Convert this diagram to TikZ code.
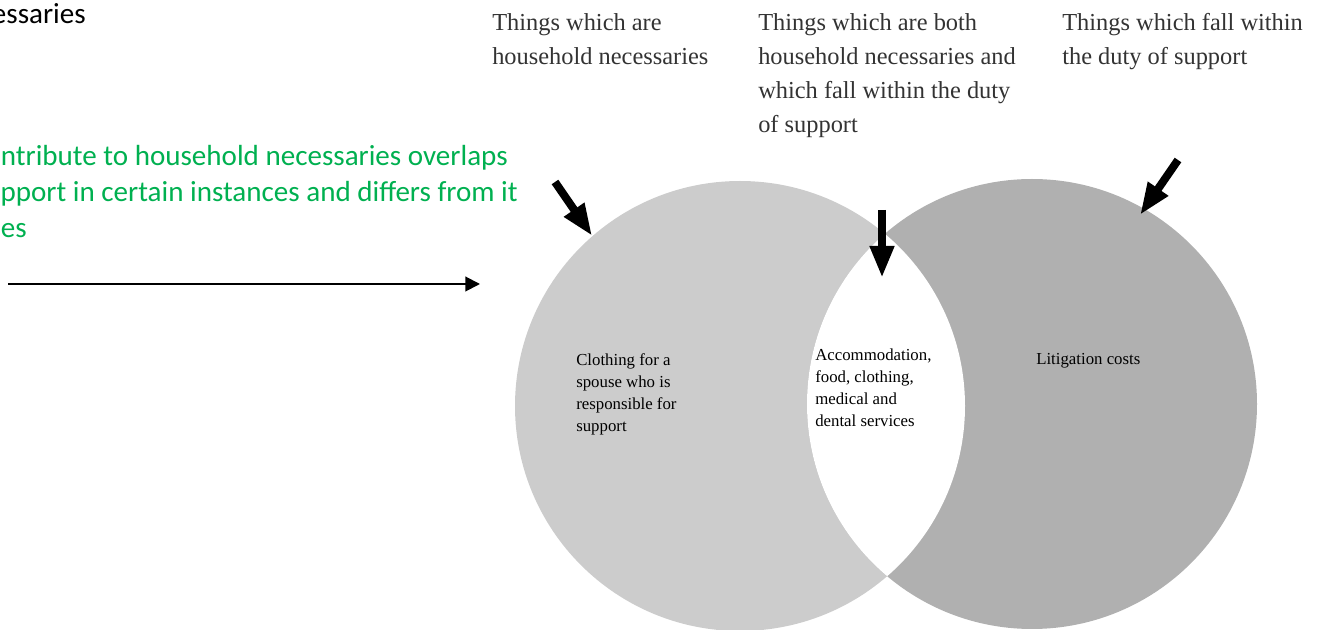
\documentclass[tikz,border=0pt]{standalone}
\usepackage{fontspec}
\setmainfont{Liberation Serif}
\newfontfamily\calibri{Carlito}
\usetikzlibrary{arrows.meta}
\definecolor{notegreen}{HTML}{00B050}
\definecolor{lightgrey}{HTML}{CCCCCC}
\definecolor{darkgrey}{HTML}{B0B0B0}
\definecolor{captiongrey}{HTML}{333333}
\begin{document}
\begin{tikzpicture}[x=0.75pt,y=-0.75pt,
  toplabel/.style={anchor=north west,align=left,text=captiongrey,inner sep=0pt,font=\fontsize{18.3}{25.7}\selectfont},
  innerlabel/.style={anchor=north west,align=left,inner sep=0pt,font=\fontsize{12.6}{16.5}\selectfont},
  notetext/.style={anchor=base east,inner sep=0pt,font=\calibri\fontsize{21.8}{26}\selectfont},
  bigarrow/.style={line width=6pt,-{Triangle[length=24pt,width=17pt]}}]
\useasboundingbox (0,0) rectangle (1318,630);
% the two circles and the white overlap
\node[circle,fill=lightgrey,minimum size=337.5pt,inner sep=0pt] (HN) at (740,406){};
\node[circle,fill=darkgrey,minimum size=337.5pt,inner sep=0pt] (DS) at (1032,404){};
\begin{scope}
\clip (740,406) circle[radius=225];
\fill[white] (1032,404) circle[radius=225];
\end{scope}
% captions on top
\node[toplabel] (tHN) at (492,13){Things which are\\household necessaries};
\node[toplabel] (tBoth) at (758,13){Things which are both\\household necessaries and\\which fall within the duty\\of support};
\node[toplabel] (tDS) at (1062,13){Things which fall within\\the duty of support};
% texts inside
\node[innerlabel] (cHN) at (576,353){Clothing for a\\spouse who is\\responsible for\\support};
\node[innerlabel] (cBoth) at (815,349){Accommodation,\\food, clothing,\\medical and\\dental services};
\node[innerlabel] (cDS) at (1036,353){Litigation costs};
% arrows
\coordinate (aHN) at (555,182);
\coordinate (aBoth) at (882,210);
\coordinate (bBoth) at (882,278);
\coordinate (aDS) at (1178,160);
\coordinate (bDS) at (1140,215);
\draw [bigarrow](aHN) -- (HN.131.8);
\draw [bigarrow](aBoth) -- (bBoth);
\draw [bigarrow](aDS) -- (bDS);
% notes on the left
\node[anchor=base east,inner sep=0pt,font=\calibri\fontsize{21.8}{26}\selectfont] (n0) at (86,24){essaries};
\node[notetext,text=notegreen] (n1) at (508,166){ntribute to household necessaries overlaps};
\node[notetext,text=notegreen] (n2) at (518,202){pport in certain instances and differs from it};
\node[notetext,text=notegreen] (n3) at (27,238){es};
\coordinate (p) at (8,284);
\coordinate (q) at (480,284);
\draw [line width=1.5pt,-{Triangle[length=11pt,width=11pt]}](p) -- (q);
\end{tikzpicture}
\end{document}
